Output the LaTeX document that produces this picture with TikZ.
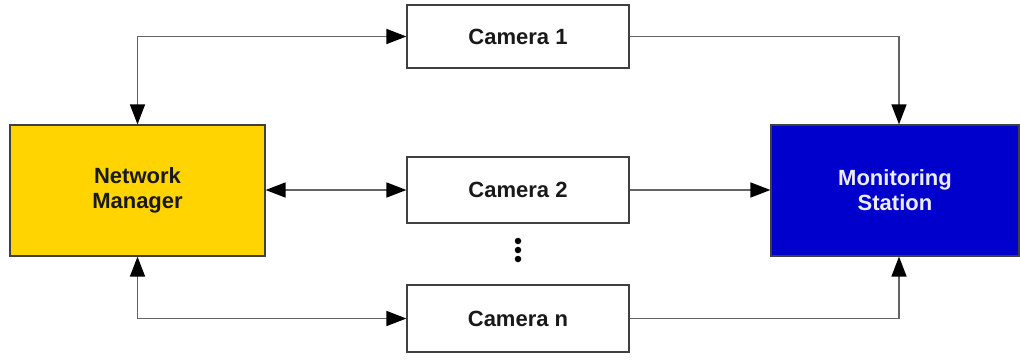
\documentclass[tikz,border=0pt]{standalone}
\usepackage{fontspec}
\setmainfont{Liberation Sans}
\usetikzlibrary{arrows.meta,calc}
\definecolor{nmyellow}{RGB}{255,212,0}
\definecolor{msblue}{RGB}{0,0,204}
\definecolor{linegray}{RGB}{100,100,100}
\definecolor{msText}{RGB}{235,235,250}
\begin{document}
\begin{tikzpicture}[x=1pt,y=-1pt,
  box/.style={draw=black!75,line width=1.2pt,rectangle,inner sep=0pt,
    font=\fontsize{22}{25}\selectfont\bfseries,align=center,text=black!90},
  cambox/.style={box,fill=white,minimum width=222pt},
  tip/.style={},
  conn/.style={draw=linegray,line width=1.5pt,
    arrows={-Triangle[length=20pt,width=15pt,fill=black,color=black]}},
  bconn/.style={conn,arrows={Triangle[length=20pt,width=15pt,fill=black,color=black]-Triangle[length=20pt,width=15pt,fill=black,color=black]}},
  dot/.style={circle,fill=black,inner sep=0pt,minimum size=6.5pt}]
\useasboundingbox (0,0) rectangle (1020,359);
\node[box,fill=nmyellow,minimum width=255pt,minimum height=131pt] (nm) at (137.5,190.5) {Network\\Manager};
\node[box,fill=msblue,text=msText,minimum width=248pt,minimum height=131pt] (ms) at (895,190.5) {Monitoring\\Station};
\node[cambox,minimum height=63pt] (c1) at (518,36.5) {Camera 1};
\node[cambox,minimum height=66pt] (c2) at (518,190) {Camera 2};
\node[cambox,minimum height=67pt] (cn) at (518,318.5) {Camera n};
\node[dot] (d1) at (518,241) {};
\node[dot] (d2) at (518,250) {};
\node[dot] (d3) at (518,259) {};
\draw[bconn] (nm.north) -- (nm.north |- c1.west) -- (c1.west);
\draw[bconn] (nm.east |- c2.west) -- (c2.west);
\draw[bconn] (nm.south) -- (nm.south |- cn.west) -- (cn.west);
\draw[conn] (c1.east) -- ([xshift=4pt]ms.north |- c1.east) -- ([xshift=4pt]ms.north);
\draw[conn] (c2.east) -- (ms.west |- c2.east);
\draw[conn] (cn.east) -- ([xshift=4pt]ms.south |- cn.east) -- ([xshift=4pt]ms.south);
\end{tikzpicture}
\end{document}
